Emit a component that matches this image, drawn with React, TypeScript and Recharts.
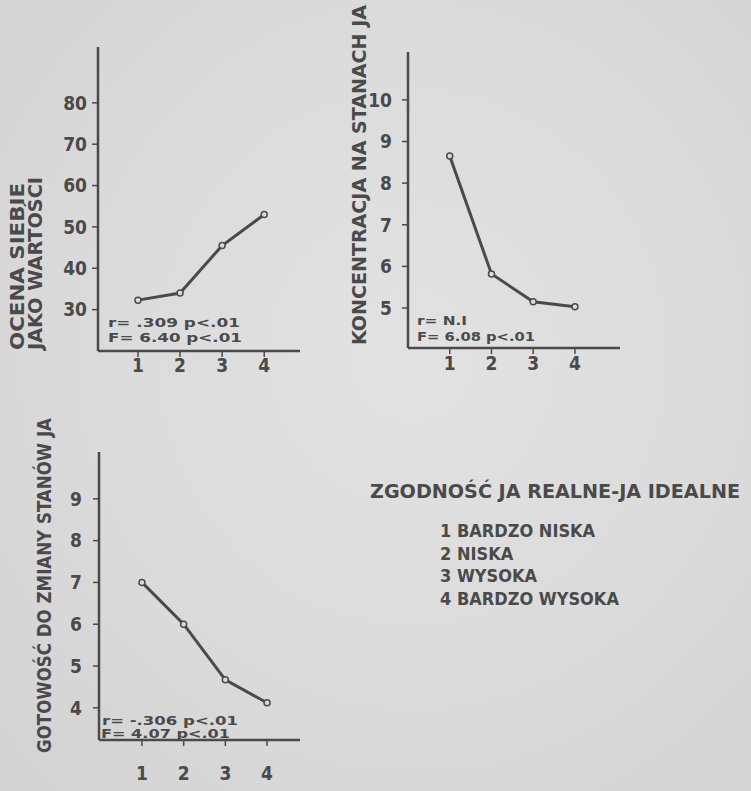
import { LineChart, Line, XAxis, YAxis } from 'recharts';

// categories (agreement level real self / ideal self)
const CATEGORIES = [1, 2, 3, 4];

// series values
const SELF_VALUE = [32.3, 34, 45.5, 53];
const CONCENTRATION = [8.65, 5.82, 5.15, 5.03];
const READINESS = [7.0, 6.0, 4.67, 4.12];

// y tick labels
const SELF_TICKS = [30, 40, 50, 60, 70, 80];
const CONC_TICKS = [5, 6, 7, 8, 9, 10];
const READY_TICKS = [4, 5, 6, 7, 8, 9];

const LEGEND_TITLE = 'ZGODNOŚĆ JA REALNE-JA IDEALNE';
const LEGEND_ITEMS = ['1 BARDZO NISKA', '2 NISKA', '3 WYSOKA', '4 BARDZO WYSOKA'];

const FONT = '"DejaVu Sans Condensed", "Liberation Sans Narrow", "DejaVu Sans", sans-serif';
const INK = '#4a4a4a';
const BG = '#dcdcdc';

const toRows = (values: number[]) => CATEGORIES.map((c, i) => ({ x: c, y: values[i] }));

type PanelProps = {
  values: number[];
  left: number;
  top: number;
  width: number;
  height: number;
  marginTop: number;
  yWidth: number;
  xHeight: number;
  xDomain: [number, number];
  yDomain: [number, number];
  yTicks: number[];
  yTickMargin: number;
  xTickMargin: number;
};

function Panel(p: PanelProps) {
  const tickStyle = { fill: INK, fontSize: 19, fontFamily: FONT, fontWeight: 700 };
  return (
    <div style={{ position: 'absolute', left: p.left, top: p.top }}>
      <LineChart
        width={p.width}
        height={p.height}
        data={toRows(p.values)}
        margin={{ top: p.marginTop, right: 20, left: 0, bottom: 0 }}
      >
        <XAxis
          type="number"
          dataKey="x"
          domain={p.xDomain}
          ticks={CATEGORIES}
          allowDataOverflow
          height={p.xHeight}
          tickSize={6}
          tickMargin={p.xTickMargin}
          tick={tickStyle}
          stroke={INK}
          strokeWidth={2.5}
          tickLine={{ stroke: INK, strokeWidth: 1.5 }}
        />
        <YAxis
          type="number"
          domain={p.yDomain}
          ticks={p.yTicks}
          allowDataOverflow
          width={p.yWidth}
          tickSize={6}
          tickMargin={p.yTickMargin}
          tick={tickStyle}
          stroke={INK}
          strokeWidth={2.5}
          tickLine={{ stroke: INK, strokeWidth: 1.5 }}
        />
        <Line
          type="linear"
          dataKey="y"
          stroke={INK}
          strokeWidth={3}
          dot={{ r: 3, fill: BG, stroke: INK, strokeWidth: 1.5 }}
          isAnimationActive={false}
        />
      </LineChart>
    </div>
  );
}

const noteStyle = { fill: INK, fontSize: 11.5, fontFamily: FONT, fontWeight: 700 } as const;
const titleStyle = { fill: INK, fontSize: 20, fontFamily: FONT, fontWeight: 700 } as const;

export default function App() {
  return (
    <div
      style={{
        position: 'absolute',
        left: 0,
        top: 0,
        width: 751,
        height: 791,
        overflow: 'hidden',
        background: 'radial-gradient(ellipse at 55% 45%, #e2e2e2 0%, #dadada 60%, #d2d2d2 100%)',
      }}
    >
      <Panel
        values={SELF_VALUE}
        left={0}
        top={0}
        width={320}
        height={390}
        marginTop={47}
        yWidth={98}
        xHeight={39}
        xDomain={[0.05, 4.85]}
        yDomain={[20, 93.5]}
        yTicks={SELF_TICKS}
        yTickMargin={5}
        xTickMargin={2}
      />
      <Panel
        values={CONCENTRATION}
        left={300}
        top={0}
        width={340}
        height={390}
        marginTop={52}
        yWidth={108}
        xHeight={42}
        xDomain={[0, 5.08]}
        yDomain={[4.04, 11.15]}
        yTicks={CONC_TICKS}
        yTickMargin={10}
        xTickMargin={3}
      />
      <Panel
        values={READINESS}
        left={0}
        top={400}
        width={320}
        height={391}
        marginTop={52}
        yWidth={99}
        xHeight={51}
        xDomain={[-0.03, 4.79]}
        yDomain={[3.23, 10.12]}
        yTicks={READY_TICKS}
        yTickMargin={11}
        xTickMargin={21}
      />

      <svg
        width={751}
        height={791}
        style={{ position: 'absolute', left: 0, top: 0, pointerEvents: 'none' }}
      >
        {/* rotated axis titles */}
        <text transform="translate(24,350) rotate(-90)" textLength={167} lengthAdjust="spacingAndGlyphs" style={titleStyle}>
          OCENA  SIEBIE
        </text>
        <text transform="translate(42,350) rotate(-90)" textLength={173} lengthAdjust="spacingAndGlyphs" style={titleStyle}>
          JAKO WARTOŚCI
        </text>
        <text transform="translate(366,345) rotate(-90)" textLength={340} lengthAdjust="spacingAndGlyphs" style={titleStyle}>
          KONCENTRACJA NA STANACH JA
        </text>
        <text transform="translate(51,753) rotate(-90)" textLength={335} lengthAdjust="spacingAndGlyphs" style={titleStyle}>
          GOTOWOŚĆ DO ZMIANY STANÓW JA
        </text>

        {/* statistics notes */}
        <text x={108} y={327} textLength={132} lengthAdjust="spacingAndGlyphs" style={noteStyle}>r= .309  p&lt;.01</text>
        <text x={108} y={342} textLength={134} lengthAdjust="spacingAndGlyphs" style={noteStyle}>F= 6.40  p&lt;.01</text>
        <text x={417} y={325} textLength={50} lengthAdjust="spacingAndGlyphs" style={noteStyle}>r= N.I</text>
        <text x={417} y={341} textLength={118} lengthAdjust="spacingAndGlyphs" style={noteStyle}>F= 6.08  p&lt;.01</text>
        <text x={102} y={725} textLength={136} lengthAdjust="spacingAndGlyphs" style={noteStyle}>r= -.306  p&lt;.01</text>
        <text x={101} y={738} textLength={129} lengthAdjust="spacingAndGlyphs" style={noteStyle}>F= 4.07  p&lt;.01</text>

        {/* legend */}
        <text x={370} y={498} textLength={370} lengthAdjust="spacingAndGlyphs" style={titleStyle}>
          {LEGEND_TITLE}
        </text>
        {LEGEND_ITEMS.map((item, i) => (
          <text key={item} x={440} y={537 + i * 22.7} style={{ ...titleStyle, fontSize: 18 }}>
            {item}
          </text>
        ))}
      </svg>
    </div>
  );
}
